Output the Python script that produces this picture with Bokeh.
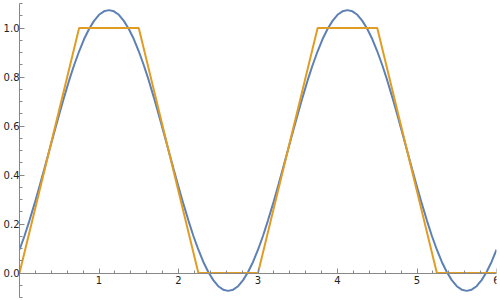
from bokeh.plotting import figure
from bokeh.models import FixedTicker, PrintfTickFormatter, Range1d
from bokeh.embed import file_html
from bokeh.resources import INLINE

# Trapezoid wave (orange)
trap_x = [0, 0.75, 1.5, 2.25, 3, 3.75, 4.5, 5.25, 6]
trap_y = [0, 1, 1, 0, 0, 1, 1, 0, 0]

# Smooth approximation (blue)
wave_x = [0, 0.0625, 0.125, 0.1875, 0.25, 0.3125, 0.375, 0.4375, 0.5, 0.5625,
          0.625, 0.6875, 0.75, 0.8125, 0.875, 0.9375, 1.0, 1.0625, 1.125, 1.1875,
          1.25, 1.3125, 1.375, 1.4375, 1.5, 1.5625, 1.625, 1.6875, 1.75, 1.8125,
          1.875, 1.9375, 2.0, 2.0625, 2.125, 2.1875, 2.25, 2.3125, 2.375, 2.4375,
          2.5, 2.5625, 2.625, 2.6875, 2.75, 2.8125, 2.875, 2.9375, 3.0, 3.0625,
          3.125, 3.1875, 3.25, 3.3125, 3.375, 3.4375, 3.5, 3.5625, 3.625, 3.6875,
          3.75, 3.8125, 3.875, 3.9375, 4.0, 4.0625, 4.125, 4.1875, 4.25, 4.3125,
          4.375, 4.4375, 4.5, 4.5625, 4.625, 4.6875, 4.75, 4.8125, 4.875, 4.9375,
          5.0, 5.0625, 5.125, 5.1875, 5.25, 5.3125, 5.375, 5.4375, 5.5, 5.5625,
          5.625, 5.6875, 5.75, 5.8125, 5.875, 5.9375, 6.0]
wave_y = [0.095, 0.151, 0.214, 0.281, 0.352, 0.425, 0.500, 0.575, 0.648, 0.719,
          0.787, 0.849, 0.905, 0.955, 0.996, 1.029, 1.054, 1.068, 1.073, 1.068,
          1.054, 1.029, 0.996, 0.955, 0.905, 0.849, 0.787, 0.719, 0.648, 0.575,
          0.500, 0.425, 0.352, 0.281, 0.214, 0.151, 0.095, 0.045, 0.004, -0.029,
          -0.054, -0.068, -0.073, -0.068, -0.054, -0.029, 0.004, 0.045,
          0.095, 0.151, 0.214, 0.281, 0.352, 0.425, 0.500, 0.575, 0.648, 0.719,
          0.787, 0.849, 0.905, 0.955, 0.996, 1.029, 1.054, 1.068, 1.073, 1.068,
          1.054, 1.029, 0.996, 0.955, 0.905, 0.849, 0.787, 0.719, 0.648, 0.575,
          0.500, 0.425, 0.352, 0.281, 0.214, 0.151, 0.095, 0.045, 0.004, -0.029,
          -0.054, -0.068, -0.073, -0.068, -0.054, -0.029, 0.004, 0.045, 0.095]

x_ticks = [1, 2, 3, 4, 5, 6]
x_minor = [0.2, 0.4, 0.6, 0.8, 1.2, 1.4, 1.6, 1.8, 2.2, 2.4, 2.6, 2.8,
           3.2, 3.4, 3.6, 3.8, 4.2, 4.4, 4.6, 4.8, 5.2, 5.4, 5.6, 5.8]
y_ticks = [0.0, 0.2, 0.4, 0.6, 0.8, 1.0]
y_minor = [-0.1, -0.05, 0.05, 0.1, 0.15, 0.25, 0.3, 0.35, 0.45, 0.5, 0.55,
           0.65, 0.7, 0.75, 0.85, 0.9, 0.95, 1.05, 1.1]

p = figure(width=500, height=300, output_backend="svg", toolbar_location=None,
           x_range=Range1d(0, 6), y_range=Range1d(-0.1, 1.1),
           min_border_left=19, min_border_right=4, min_border_top=3,
           min_border_bottom=3)
p.outline_line_color = None
p.grid.visible = False
p.background_fill_color = "white"
p.border_fill_color = "white"

p.line(wave_x, wave_y, line_color="#5E81B5", line_width=2)
p.line(trap_x, trap_y, line_color="#E19C24", line_width=2)

for ax, ticks, minor in ((p.xaxis[0], x_ticks, x_minor), (p.yaxis[0], y_ticks, y_minor)):
    ax.ticker = FixedTicker(ticks=ticks, minor_ticks=minor)
    ax.axis_line_color = "#888888"
    ax.major_tick_line_color = "#888888"
    ax.minor_tick_line_color = "#888888"
    ax.major_tick_in = 5
    ax.major_tick_out = 0
    ax.minor_tick_in = 3
    ax.minor_tick_out = 0
    ax.major_label_text_font = "DejaVu Sans"
    ax.major_label_text_font_size = "10px"
    ax.major_label_text_color = "#222222"

p.xaxis[0].fixed_location = 0
p.xaxis[0].major_label_standoff = 3
p.yaxis[0].major_label_standoff = 0
p.yaxis[0].formatter = PrintfTickFormatter(format="%.1f")

open("out.html", "w").write(file_html(p, INLINE))
